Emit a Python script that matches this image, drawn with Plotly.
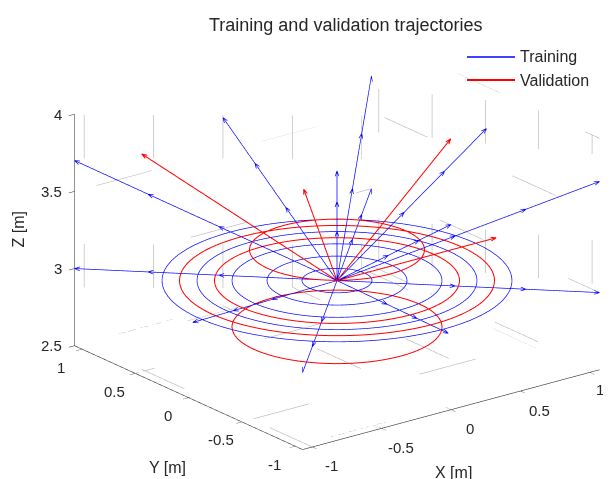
import numpy as np
import plotly.graph_objects as go

# ---------------- data ----------------
title_text = "Training and validation trajectories"
legend_names = ["Training", "Validation"]
center = [0.0, 0.0, 3.0]

train_radii = [0.2, 0.4, 0.6, 0.8, 1.0]
train_circle_z = [3.0, 3.0, 3.0, 3.0, 3.0]
val_radii = [0.7, 0.9, 0.5, 0.6]
val_circle_z = [3.0, 3.0, 3.2, 2.7]

train_end_x = [-1.07, -1.07, 0.0, 1.07, 0.0, 1.07, 1.07, 1.07, 1.07, 0.0, -1.07, -0.02, -1.07]
train_end_y = [1.07, 1.07, 1.07, 1.07, 0.0, 1.07, -0.01, -1.07, -1.07, -1.07, -0.04, -1.07, -1.07]
train_end_z = [3.70, 3.0, 3.72, 3.73, 3.71, 3.0, 3.73, 3.72, 3.0, 3.70, 3.0, 3.0, 3.0]

val_end_x = [-0.70, -0.24, 0.85, 1.07]
val_end_y = [0.92, 0.0, 0.04, -0.10]
val_end_z = [3.70, 3.65, 3.70, 3.05]

xy_ticks = [-1, -0.5, 0, 0.5, 1]
xy_ticktext = ["-1", "-0.5", "0", "0.5", "1"]
z_ticks = [2.5, 3, 3.5, 4]
z_ticktext = ["2.5", "3", "3.5", "4"]
axis_titles = ["X [m]", "Y [m]", "Z [m]"]

# ---------------- styling / view ----------------
XY_LIM = 1.07
Z_LIM = (2.5, 4.0)
BASE_ASPECT = dict(x=1, y=1, z=0.66)
ZOOM = 1.6
ASPECT = {k: v * ZOOM for k, v in BASE_ASPECT.items()}
eye_dir = np.array([-0.571, -0.743, 0.35])
eye_dir = eye_dir / np.linalg.norm(eye_dir)
EYE_NORM = 2.0
BLUE = "#0000ff"
RED = "#ff0000"
GRID = "#b4b4b4"
TXT = "#262626"
FONT = "Liberation Sans, Arial, sans-serif"
W, H = 611, 479


def to_n(p):
    return np.array([p[0] / XY_LIM * BASE_ASPECT["x"], p[1] / XY_LIM * BASE_ASPECT["y"],
                     (p[2] - 3.25) / 0.75 * BASE_ASPECT["z"]])


def from_n(q):
    return np.array([q[0] * XY_LIM / BASE_ASPECT["x"], q[1] * XY_LIM / BASE_ASPECT["y"],
                     q[2] * 0.75 / BASE_ASPECT["z"] + 3.25])


def head(start, tip, L=0.028, Wd=0.010):
    s, t = to_n(start), to_n(tip)
    d = t - s
    d = d - np.dot(d, eye_dir) * eye_dir
    d = d / np.linalg.norm(d)
    p = np.cross(eye_dir, d)
    p = p / np.linalg.norm(p)
    w1 = from_n(t - L * d + Wd * p)
    w2 = from_n(t - L * d - Wd * p)
    return [w1, np.array(tip), w2]


def circle_xyz(r, z, n=241):
    th = np.linspace(0, 2 * np.pi, n)
    return r * np.cos(th), r * np.sin(th), np.full(n, z)


fig = go.Figure()

# dashed grid on the back planes
gx, gy, gz = [], [], []
for v in xy_ticks:
    gx += [v, v, None]; gy += [-XY_LIM, XY_LIM, None]; gz += [Z_LIM[0], Z_LIM[0], None]
    gx += [-XY_LIM, XY_LIM, None]; gy += [v, v, None]; gz += [Z_LIM[0], Z_LIM[0], None]
    gx += [v, v, None]; gy += [XY_LIM, XY_LIM, None]; gz += [Z_LIM[0], Z_LIM[1], None]
    gx += [XY_LIM, XY_LIM, None]; gy += [v, v, None]; gz += [Z_LIM[0], Z_LIM[1], None]
for v in z_ticks:
    gx += [-XY_LIM, XY_LIM, None]; gy += [XY_LIM, XY_LIM, None]; gz += [v, v, None]
    gx += [XY_LIM, XY_LIM, None]; gy += [-XY_LIM, XY_LIM, None]; gz += [v, v, None]
fig.add_trace(go.Scatter3d(x=gx, y=gy, z=gz, mode="lines",
                           line=dict(color=GRID, width=1.2, dash="dash"),
                           showlegend=False, hoverinfo="skip"))


def add_group(radii, cz, ex, ey, ez, color, name, width, mids):
    xs, ys, zs = [], [], []
    for r, z in zip(radii, cz):
        a, b, c = circle_xyz(r, z)
        xs += list(a) + [None]; ys += list(b) + [None]; zs += list(c) + [None]
    hx, hy, hz = [], [], []
    for x, y, z in zip(ex, ey, ez):
        xs += [center[0], x, None]; ys += [center[1], y, None]; zs += [center[2], z, None]
        tip = np.array([x, y, z])
        st = np.array(center)
        pts = [tip] + [st + f * (tip - st) for f in mids]
        for pt in pts:
            w = head(st, pt)
            hx += [q[0] for q in w] + [None]
            hy += [q[1] for q in w] + [None]
            hz += [q[2] for q in w] + [None]
    fig.add_trace(go.Scatter3d(x=xs, y=ys, z=zs, mode="lines", name=name,
                               legendgroup=name, showlegend=False,
                               line=dict(color=color, width=width), hoverinfo="skip"))
    fig.add_trace(go.Scatter3d(x=hx, y=hy, z=hz, mode="lines", name=name,
                               legendgroup=name, showlegend=False,
                               line=dict(color=color, width=width), hoverinfo="skip"))


add_group(train_radii, train_circle_z, train_end_x, train_end_y, train_end_z,
          BLUE, legend_names[0], 1.4, [0.45, 0.72])
add_group(val_radii, val_circle_z, val_end_x, val_end_y, val_end_z,
          RED, legend_names[1], 2.0, [])

# ---------- scene annotations: tick labels & axis titles (horizontal like MATLAB) ----
TICK_FONT = dict(size=15, color=TXT, family=FONT)
LAB_FONT = dict(size=16, color=TXT, family=FONT)
scene_ann = []
for v, t in zip(xy_ticks, xy_ticktext):
    if v == xy_ticks[-1]:
        scene_ann.append(dict(x=v, y=-XY_LIM, z=Z_LIM[0], text=t, showarrow=False,
                              xanchor="right", borderpad=0, xshift=15, yshift=-17,
                              font=TICK_FONT))
    else:
        scene_ann.append(dict(x=v, y=-XY_LIM, z=Z_LIM[0], text=t, showarrow=False,
                              xshift=19, yshift=-19, font=TICK_FONT))
    scene_ann.append(dict(x=-XY_LIM, y=v, z=Z_LIM[0], text=t, showarrow=False,
                          xshift=-21, yshift=-18, font=TICK_FONT))
for v, t in zip(z_ticks, z_ticktext):
    scene_ann.append(dict(x=-XY_LIM, y=XY_LIM, z=v, text=t, showarrow=False,
                          xanchor="right", xshift=-11, font=TICK_FONT))
scene_ann.append(dict(x=0, y=-XY_LIM, z=Z_LIM[0], text=axis_titles[0], showarrow=False,
                      xshift=2, yshift=-63, font=LAB_FONT))
scene_ann.append(dict(x=-XY_LIM, y=0, z=Z_LIM[0], text=axis_titles[1], showarrow=False,
                      xshift=-21, yshift=-70, font=LAB_FONT))
scene_ann.append(dict(x=-XY_LIM, y=XY_LIM, z=3.25, text=axis_titles[2], showarrow=False,
                      xshift=-56, textangle=-90, font=LAB_FONT))

# ---------- manual legend (MATLAB-style long line samples) ----------
shapes = []
annotations = [dict(text=title_text, x=337 / W, y=1 - 17 / H, xref="paper", yref="paper",
                    xanchor="center", yanchor="middle", showarrow=False,
                    font=dict(size=18, color=TXT, family=FONT))]
for i, (nm, col) in enumerate(zip(legend_names, [BLUE, RED])):
    yy = 1 - (49 + 23 * i) / H
    shapes.append(dict(type="line", xref="paper", yref="paper", x0=459 / W, x1=507 / W,
                       y0=yy, y1=yy, line=dict(color=col, width=1.6 if i == 0 else 2)))
    annotations.append(dict(text=nm, x=510 / W, y=yy, xref="paper", yref="paper",
                            xanchor="left", yanchor="middle", showarrow=False,
                            font=dict(size=16, color=TXT, family=FONT)))

axis_common = dict(showgrid=False, showbackground=False, zeroline=False,
                   showline=True, linecolor=TXT, linewidth=1.2,
                   ticks="outside", ticklen=7, tickcolor=TXT, tickwidth=1,
                   showticklabels=False, showspikes=False, title=dict(text=""))

fig.update_layout(
    width=W, height=H,
    margin=dict(l=0, r=0, t=0, b=0),
    paper_bgcolor="white",
    showlegend=False,
    font=dict(family=FONT, color=TXT),
    shapes=shapes,
    annotations=annotations,
    scene=dict(
        domain=dict(x=[0.077, 1.0], y=[0.023, 1.0]),
        aspectmode="manual", aspectratio=ASPECT,
        camera=dict(projection=dict(type="orthographic"),
                    eye=dict(x=eye_dir[0] * EYE_NORM, y=eye_dir[1] * EYE_NORM,
                             z=eye_dir[2] * EYE_NORM),
                    up=dict(x=0, y=0, z=1), center=dict(x=0, y=0, z=0)),
        xaxis=dict(range=[-XY_LIM, XY_LIM], tickvals=xy_ticks, **axis_common),
        yaxis=dict(range=[-XY_LIM, XY_LIM], tickvals=xy_ticks, **axis_common),
        zaxis=dict(range=list(Z_LIM), tickvals=z_ticks, **axis_common),
        annotations=scene_ann,
    ),
)

fig.write_html("out.html")
